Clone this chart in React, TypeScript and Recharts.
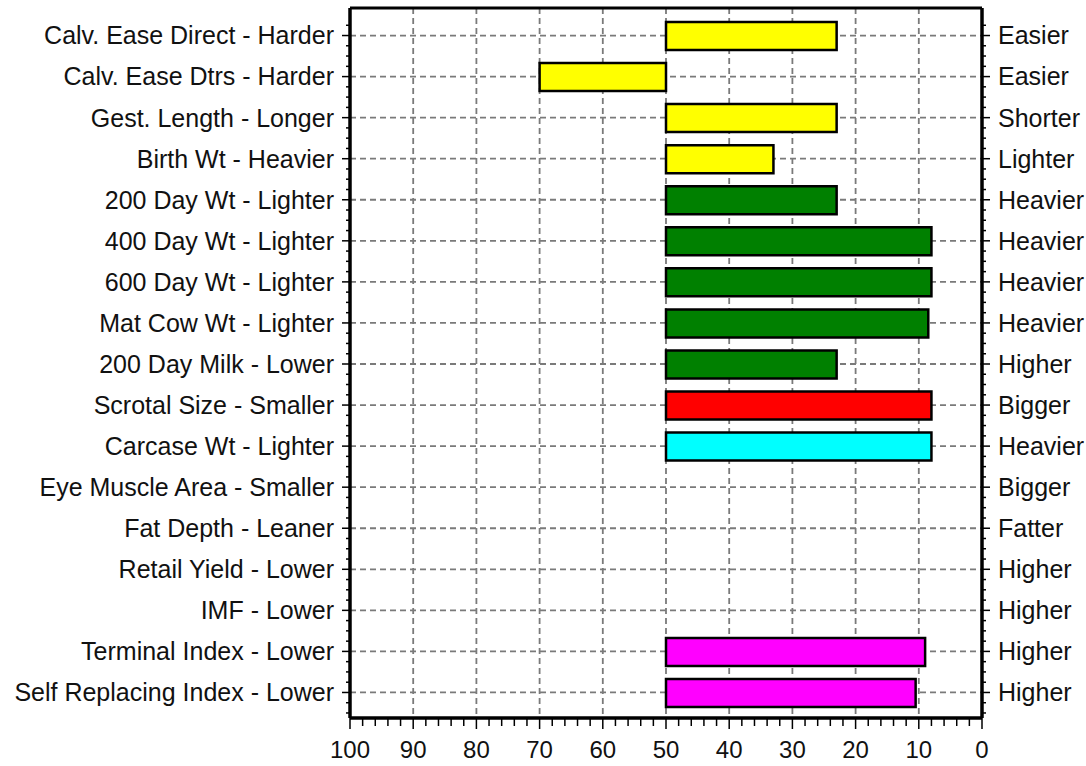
import { BarChart, Bar, XAxis, YAxis, CartesianGrid, Cell } from "recharts";

const leftLabels = [
  "Calv. Ease Direct - Harder",
  "Calv. Ease Dtrs - Harder",
  "Gest. Length - Longer",
  "Birth Wt - Heavier",
  "200 Day Wt - Lighter",
  "400 Day Wt - Lighter",
  "600 Day Wt - Lighter",
  "Mat Cow Wt - Lighter",
  "200 Day Milk - Lower",
  "Scrotal Size - Smaller",
  "Carcase Wt - Lighter",
  "Eye Muscle Area - Smaller",
  "Fat Depth - Leaner",
  "Retail Yield - Lower",
  "IMF - Lower",
  "Terminal Index - Lower",
  "Self Replacing Index - Lower",
];

const rightLabels = [
  "Easier", "Easier", "Shorter", "Lighter", "Heavier", "Heavier", "Heavier", "Heavier",
  "Higher", "Bigger", "Heavier", "Bigger", "Fatter", "Higher", "Higher", "Higher", "Higher",
];

// percentile rank each bar reaches (bars start at 50)
const barEnds = [23, 70, 23, 33, 23, 8, 8, 8.5, 23, 8, 8, null, null, null, null, 9, 10.5];

const barColors = [
  "#FFFF00", "#FFFF00", "#FFFF00", "#FFFF00",
  "#008000", "#008000", "#008000", "#008000", "#008000",
  "#FF0000", "#00FFFF",
  "#FFFFFF", "#FFFFFF", "#FFFFFF", "#FFFFFF",
  "#FF00FF", "#FF00FF",
];

const minorTicks = Array.from({ length: 51 }, (_, i) => i * 2);
const majorTicks = [0, 10, 20, 30, 40, 50, 60, 70, 80, 90, 100];

const data = leftLabels.map((name, i) => ({
  name,
  right: rightLabels[i],
  range: barEnds[i] == null ? null : [50, barEnds[i]],
}));

const FONT = "'Liberation Sans', Arial, sans-serif";
const ROW = 41;

// vertical grid only at the labelled ticks (axis runs 100 -> 0)
function gridX({ xAxis, offset }: any) {
  if (xAxis && typeof xAxis.scale === "function") {
    return majorTicks.map((v) => xAxis.scale(v));
  }
  return majorTicks.map((v) => offset.left + (offset.width * (100 - v)) / 100);
}

function BottomTick(props: any) {
  const { x, y, payload } = props;
  const major = payload.value % 10 === 0;
  return (
    <g>
      <line x1={x} x2={x} y1={y} y2={y + (major ? 11 : 8)} stroke="#000" strokeWidth={1.5} />
      {major && (
        <text x={x} y={y + 40} textAnchor="middle" fontSize={24} fontFamily={FONT} fill="#111">
          {payload.value}
        </text>
      )}
    </g>
  );
}

function SideTick(props: any) {
  const { x, y, payload, side, index } = props;
  const dir = side === "left" ? -1 : 1;
  const label = side === "left" ? payload.value : rightLabels[index];
  const minors = [-ROW / 4, ROW / 4, ROW / 2];
  return (
    <g>
      <line x1={x} x2={x + dir * 8} y1={y} y2={y} stroke="#000" strokeWidth={1.5} />
      {minors.map((o) => (
        <line key={o} x1={x} x2={x + dir * 4} y1={y + o} y2={y + o} stroke="#000" strokeWidth={1.5} />
      ))}
      <text
        x={x + dir * 16}
        y={y}
        dy="0.355em"
        textAnchor={side === "left" ? "end" : "start"}
        fontSize={25}
        fontFamily={FONT}
        fill="#111"
      >
        {label}
      </text>
    </g>
  );
}

export default function App() {
  return (
    <div style={{ width: 1086, height: 766, background: "#fff" }}>
      <style>{`body{margin:0}`}</style>
      <BarChart
        width={1086}
        height={766}
        data={data}
        layout="vertical"
        margin={{ top: 7, right: 0, bottom: 0, left: 0 }}
        barSize={28}
      >
        <CartesianGrid
          xAxisId="bottom"
          yAxisId="left"
          stroke="#7a7a7a"
          strokeDasharray="6 4"
          strokeWidth={1.8}
          verticalCoordinatesGenerator={gridX}
        />
        <XAxis
          xAxisId="top"
          orientation="top"
          type="number"
          domain={[0, 100]}
          reversed
          tick={false}
          tickLine={false}
          height={1}
          axisLine={{ stroke: "#000", strokeWidth: 3 }}
        />
        <XAxis
          xAxisId="bottom"
          type="number"
          domain={[0, 100]}
          reversed
          ticks={minorTicks}
          interval={0}
          tickSize={0}
          tickMargin={0}
          tickLine={false}
          tick={<BottomTick />}
          height={48}
          axisLine={{ stroke: "#000", strokeWidth: 3.5 }}
        />
        <YAxis
          yAxisId="left"
          type="category"
          dataKey="name"
          width={350}
          interval={0}
          tickSize={0}
          tickMargin={0}
          tickLine={false}
          tick={<SideTick side="left" />}
          padding={{ top: 7, bottom: 5 }}
          axisLine={{ stroke: "#000", strokeWidth: 3.5 }}
        />
        <YAxis
          yAxisId="right"
          orientation="right"
          type="category"
          dataKey="name"
          width={104}
          interval={0}
          tickSize={0}
          tickMargin={0}
          tickLine={false}
          tick={<SideTick side="right" />}
          padding={{ top: 7, bottom: 5 }}
          axisLine={{ stroke: "#000", strokeWidth: 3.5 }}
        />
        <Bar
          xAxisId="bottom"
          yAxisId="left"
          dataKey="range"
          stroke="#000"
          strokeWidth={2.5}
          isAnimationActive={false}
        >
          {data.map((d, i) => (
            <Cell key={d.name} fill={barColors[i]} />
          ))}
        </Bar>
      </BarChart>
    </div>
  );
}
